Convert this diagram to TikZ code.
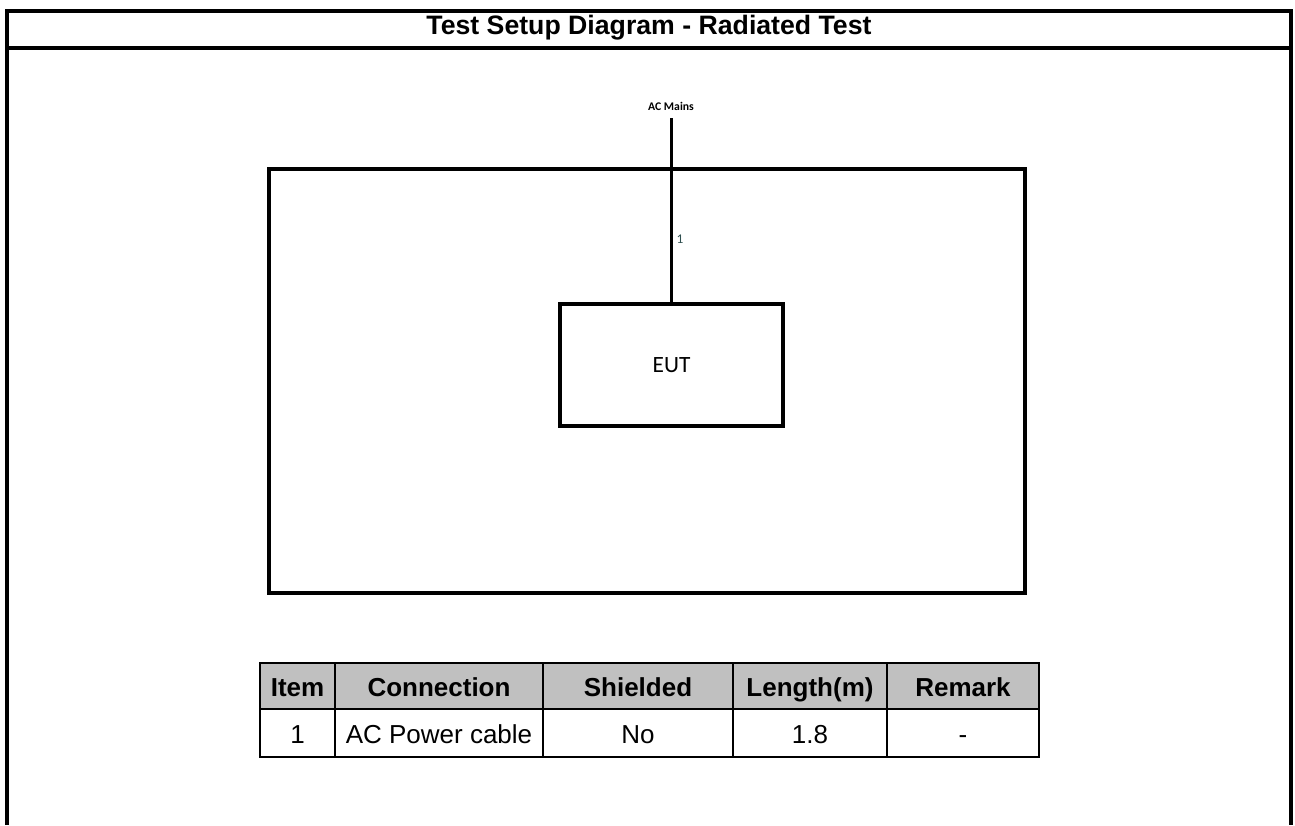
\documentclass[tikz,border=0pt]{standalone}
\usepackage{fontspec}
\setmainfont{Liberation Sans}
\newfontfamily\calibri{Carlito}
\definecolor{labelgray}{RGB}{47,79,79}
\definecolor{headgray}{RGB}{192,192,192}
\begin{document}
\begin{tikzpicture}[x=0.75pt, y=-0.75pt, line width=2.6pt]
\tikzstyle{box} = [draw=black, line width=2.6pt, inner sep=0pt]
\tikzstyle{cell} = [draw=black, line width=2.2pt, inner sep=0pt, minimum height=36pt, text height=17pt, text depth=1pt, font=\fontsize{19.5}{23}\selectfont]
\tikzstyle{hcell} = [cell, fill=headgray, minimum height=34.5pt, font=\bfseries\fontsize{19.5}{23}\selectfont]

\useasboundingbox (0,0) rectangle (1295,825);

% frame and title
\draw (7,825) -- (7,11) -- (1291,11) -- (1291,825);
\draw (7,48) -- (1291,48);
\node[font=\bfseries\fontsize{20}{24}\selectfont] (title) at (649,28) {Test Setup Diagram - Radiated Test};

% test room and EUT
\node[box, minimum width=567pt, minimum height=318pt] (room) at (647,381) {};
\node[box, minimum width=167.25pt, minimum height=91.5pt, font=\calibri\fontsize{17.5}{20}\selectfont] (eut) at (671.5,365) {EUT};

\coordinate (mains) at (671.5,118);
\node[font=\calibri\bfseries\fontsize{8.8}{10}\selectfont] (mainslbl) at (671,106) {AC Mains};
\draw (mains) -- (eut.north);
\node[font=\calibri\fontsize{10}{12}\selectfont, text=labelgray] (cable1) at (680,239) {1};

% cable table
\foreach \cx/\w/\hd/\vl [count=\i] in {297.5/75/Item/1, 439/208/Connection/AC Power cable, 638/190/Shielded/No, 810/154/Length(m)/1.8, 963/152/Remark/-}
{
  \node[hcell, minimum width=\w*0.75pt] (h\i) at (\cx,686) {\hd};
  \node[cell, minimum width=\w*0.75pt] (r\i) at (\cx,733) {\vl};
}
\end{tikzpicture}
\end{document}
